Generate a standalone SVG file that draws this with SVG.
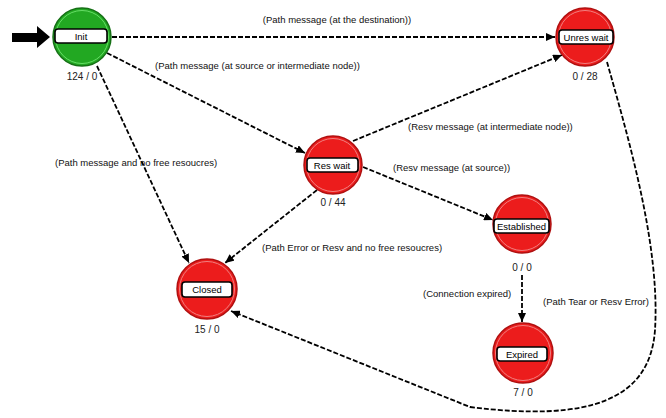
<svg xmlns="http://www.w3.org/2000/svg" width="666" height="418" viewBox="0 0 666 418">
<style>
.red{fill:#ec1c1c;stroke:#b01010;stroke-width:1.5}
.ring{fill:none;stroke:#f08080;stroke-width:1}
.green{fill:#22a822;stroke:#157015;stroke-width:1.5}
.gring{fill:none;stroke:#66dd66;stroke-width:1}
.box{fill:#fff;stroke:#000;stroke-width:1.6}
.nl{font-family:"Liberation Sans",Arial,sans-serif;font-size:9.5px;fill:#000;text-anchor:middle}
.cnt{font-family:"Liberation Sans",Arial,sans-serif;font-size:10px;fill:#222;text-anchor:middle}
.el{font-family:"Liberation Sans",Arial,sans-serif;font-size:9.5px;fill:#111}
.c{fill:none;stroke:#000;stroke-width:1.8;stroke-dasharray:5 2;marker-end:url(#ah)}
</style>
<defs>
<marker id="ah" markerUnits="userSpaceOnUse" markerWidth="10" markerHeight="8" refX="9" refY="4" orient="auto">
<path d="M0,0 L9,4 L0,8 Z" fill="#000"/>
</marker>
</defs>
<rect width="666" height="418" fill="#fff"/>
<polygon points="12,33 37,33 37,26 50,37 37,48 37,42 12,42" fill="#000"/>
<g id="connectors">
<path class="c" d="M112,37 L555,37"/>
<path class="c" d="M107,53 L305,153"/>
<path class="c" d="M97,66 L189,263"/>
<path class="c" d="M353,141 L562,55"/>
<path class="c" d="M363,167 L493,220"/>
<path class="c" d="M317,190 L225,263"/>
<path class="c" d="M522,275 L522,322"/>
<path class="c" d="M607,62 C632,150 660,250 655,330 C650,400 590,422 470,407 L231,311"/>
<text class="el" x="337" y="23" text-anchor="middle">(Path message (at the destination))</text>
<text class="el" x="155" y="69">(Path message (at source or intermediate node))</text>
<text class="el" x="55" y="166">(Path message and no free resoucres)</text>
<text class="el" x="408" y="130">(Resv message (at intermediate node))</text>
<text class="el" x="393" y="171">(Resv message (at source))</text>
<text class="el" x="262" y="251">(Path Error or Resv and no free resoucres)</text>
<text class="el" x="423" y="297">(Connection expired)</text>
<text class="el" x="543" y="305">(Path Tear or Resv Error)</text>
</g>
<g id="init">
<circle class="green" cx="82" cy="37" r="29"/>
<circle class="gring" cx="82" cy="37" r="26.5"/>
<rect class="box" x="55" y="29" width="52" height="14" rx="3"/>
<text class="nl" x="81" y="40">Init</text>
<text class="cnt" x="82" y="80">124 / 0</text>
</g>
<g id="unres-wait">
<circle class="red" cx="585" cy="37" r="29"/>
<circle class="ring" cx="585" cy="37" r="26.5"/>
<rect class="box" x="559" y="30" width="54" height="14" rx="3"/>
<text class="nl" x="586" y="41">Unres wait</text>
<text class="cnt" x="585" y="80">0 / 28</text>
</g>
<g id="res-wait">
<circle class="red" cx="333" cy="165" r="29"/>
<circle class="ring" cx="333" cy="165" r="26.5"/>
<rect class="box" x="307" y="158" width="51" height="14" rx="3"/>
<text class="nl" x="332" y="169">Res wait</text>
<text class="cnt" x="333" y="206">0 / 44</text>
</g>
<g id="established">
<circle class="red" cx="522" cy="224" r="29"/>
<circle class="ring" cx="522" cy="224" r="26.5"/>
<rect class="box" x="494" y="219" width="55" height="14" rx="3"/>
<text class="nl" x="521.5" y="230">Established</text>
<text class="cnt" x="522" y="271">0 / 0</text>
</g>
<g id="closed">
<circle class="red" cx="207" cy="289" r="30"/>
<circle class="ring" cx="207" cy="289" r="27.5"/>
<rect class="box" x="182" y="282" width="50" height="15" rx="3"/>
<text class="nl" x="207" y="293">Closed</text>
<text class="cnt" x="207" y="333">15 / 0</text>
</g>
<g id="expired">
<circle class="red" cx="523" cy="353" r="30"/>
<circle class="ring" cx="523" cy="353" r="27.5"/>
<rect class="box" x="497" y="347" width="50" height="14" rx="3"/>
<text class="nl" x="522" y="358">Expired</text>
<text class="cnt" x="523" y="396">7 / 0</text>
</g>
</svg>
